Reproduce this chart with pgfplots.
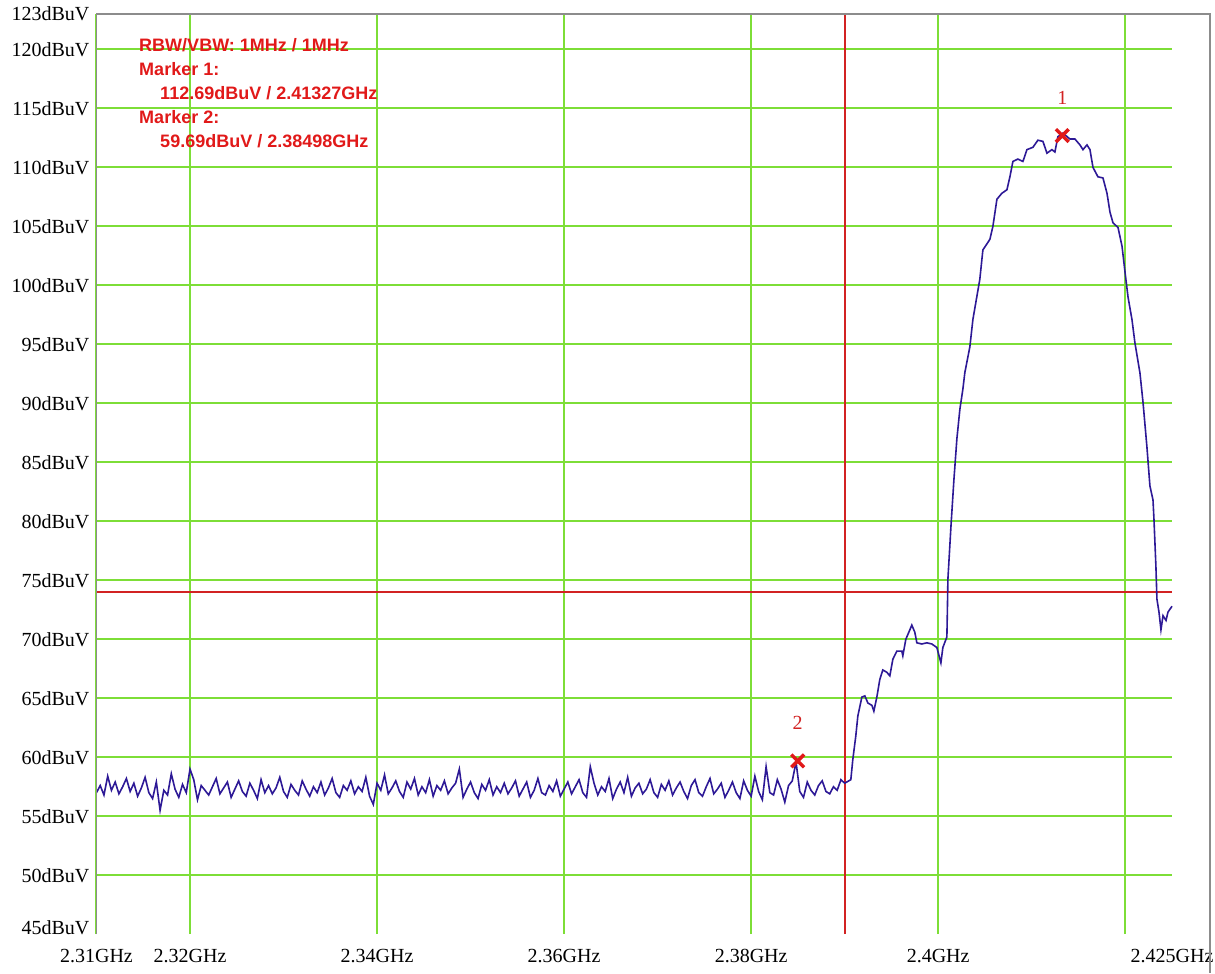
\documentclass[border=0pt]{standalone}
\usepackage{pgfplots}
\pgfplotsset{compat=1.18}
\usepackage{pgfplotstable}
\usepackage{fontspec}
\setmainfont{Liberation Serif}
\newfontfamily\annotfont{Liberation Sans}
\definecolor{gridgreen}{RGB}{125,222,55}
\definecolor{tracecol}{RGB}{45,25,150}
\definecolor{redline}{RGB}{210,35,35}
\definecolor{annotred}{RGB}{225,25,25}
\definecolor{axisgray}{RGB}{140,140,140}

\pgfplotstableread{
x y
2.3100 57.0
2.3104 57.6
2.3108 56.8
2.3112 58.4
2.3116 57.2
2.3120 57.9
2.3124 56.9
2.3128 57.5
2.3132 58.2
2.3136 57.1
2.3140 57.8
2.3144 56.7
2.3148 57.4
2.3152 58.3
2.3156 57.0
2.3160 56.5
2.3164 57.9
2.3168 55.5
2.3172 57.2
2.3176 56.8
2.3180 58.6
2.3184 57.3
2.3188 56.6
2.3192 57.7
2.3196 57.0
2.3200 59.0
2.3204 58.1
2.3208 56.4
2.3212 57.6
2.3216 57.2
2.3220 56.8
2.3224 57.5
2.3228 58.2
2.3232 56.9
2.3236 57.4
2.3240 57.9
2.3244 56.6
2.3248 57.3
2.3252 58.0
2.3256 57.1
2.3260 56.7
2.3264 57.8
2.3268 57.2
2.3272 56.5
2.3276 58.1
2.3280 57.0
2.3284 57.6
2.3288 56.9
2.3292 57.4
2.3296 58.3
2.3300 57.1
2.3304 56.6
2.3308 57.7
2.3312 57.2
2.3316 56.8
2.3320 58.0
2.3324 57.3
2.3328 56.7
2.3332 57.5
2.3336 57.0
2.3340 57.9
2.3344 56.8
2.3348 57.4
2.3352 58.2
2.3356 57.0
2.3360 56.6
2.3364 57.6
2.3368 57.2
2.3372 58.0
2.3376 56.9
2.3380 57.5
2.3384 57.1
2.3388 58.3
2.3392 56.7
2.3396 56.0
2.3400 57.8
2.3404 57.2
2.3408 58.5
2.3412 56.9
2.3416 57.4
2.3420 58.0
2.3424 57.1
2.3428 56.6
2.3432 57.9
2.3436 57.3
2.3440 58.2
2.3444 56.8
2.3448 57.5
2.3452 57.0
2.3456 58.1
2.3460 56.7
2.3464 57.6
2.3468 57.2
2.3472 58.0
2.3476 56.9
2.3480 57.4
2.3484 57.8
2.3488 59.0
2.3492 56.6
2.3496 57.3
2.3500 57.9
2.3504 57.0
2.3508 56.5
2.3512 57.7
2.3516 57.2
2.3520 58.1
2.3524 56.8
2.3528 57.5
2.3532 57.0
2.3536 57.8
2.3540 56.9
2.3544 57.4
2.3548 58.0
2.3552 56.7
2.3556 57.3
2.3560 57.9
2.3564 56.6
2.3568 57.2
2.3572 58.2
2.3576 57.0
2.3580 56.8
2.3584 57.6
2.3588 57.1
2.3592 58.0
2.3596 56.7
2.3600 57.3
2.3604 57.9
2.3608 56.9
2.3612 57.5
2.3616 58.1
2.3620 57.0
2.3624 56.6
2.3628 59.2
2.3632 57.8
2.3636 56.8
2.3640 57.5
2.3644 57.1
2.3648 58.2
2.3652 56.5
2.3656 57.3
2.3660 57.9
2.3664 57.0
2.3668 58.3
2.3672 56.7
2.3676 57.4
2.3680 57.8
2.3684 56.9
2.3688 57.3
2.3692 58.1
2.3696 57.0
2.3700 56.6
2.3704 57.7
2.3708 57.2
2.3712 58.0
2.3716 56.8
2.3720 57.4
2.3724 57.9
2.3728 57.1
2.3732 56.5
2.3736 57.6
2.3740 58.1
2.3744 57.0
2.3748 56.7
2.3752 57.5
2.3756 58.2
2.3760 56.9
2.3764 57.3
2.3768 57.8
2.3772 56.6
2.3776 57.2
2.3780 57.9
2.3784 57.0
2.3788 56.5
2.3792 58.0
2.3796 57.2
2.3800 56.7
2.3804 58.4
2.3808 57.1
2.3812 56.4
2.3816 59.2
2.3820 57.0
2.3824 56.8
2.3828 58.1
2.3832 57.3
2.3836 56.2
2.3840 57.6
2.3844 58.0
2.3848 59.6
2.3852 57.1
2.3856 56.6
2.3860 57.9
2.3864 57.2
2.3868 56.8
2.3872 57.6
2.3876 58.0
2.3880 57.1
2.3884 56.9
2.3888 57.5
2.3892 57.2
2.3896 58.1
2.3900 57.8
2.39066 58.1
2.39087 59.8
2.39119 61.8
2.39141 63.5
2.39184 65.1
2.39216 65.2
2.39248 64.6
2.39291 64.4
2.39312 63.9
2.39344 65.1
2.39376 66.6
2.39408 67.4
2.39451 67.2
2.39483 66.9
2.39515 68.3
2.39558 69.0
2.39611 69.0
2.39622 68.6
2.39654 70.0
2.39697 70.8
2.39718 71.2
2.39750 70.6
2.39772 69.7
2.39825 69.6
2.39879 69.7
2.39932 69.6
2.39986 69.3
2.40029 68.0
2.40050 69.3
2.40093 70.2
2.40098 72.3
2.40104 75.1
2.40136 79.5
2.40168 83.5
2.40200 87.0
2.40232 89.5
2.40264 91.2
2.40285 92.6
2.40339 94.8
2.40371 97.1
2.40445 100.5
2.40478 103.0
2.40553 103.9
2.40585 105.0
2.40628 107.3
2.40681 107.8
2.40735 108.1
2.40767 109.2
2.40799 110.5
2.40852 110.7
2.40906 110.5
2.40949 111.5
2.41013 111.7
2.41066 112.3
2.41120 112.2
2.41163 111.2
2.41216 111.5
2.41248 111.3
2.41280 112.6
2.41334 112.9
2.41409 112.4
2.41462 112.4
2.41516 111.9
2.41548 111.5
2.41591 111.9
2.41623 111.5
2.41655 110.0
2.41708 109.2
2.41762 109.1
2.41805 107.8
2.41837 106.2
2.41869 105.3
2.41923 104.9
2.41966 103.3
2.41998 101.1
2.42030 99.0
2.42072 97.1
2.42104 95.1
2.42157 92.6
2.42190 90.1
2.42232 86.3
2.42264 83.0
2.42297 81.8
2.42307 80.2
2.42328 76.2
2.42339 73.4
2.42361 72.3
2.42382 70.8
2.42404 72.0
2.42436 71.6
2.42457 72.3
2.42500 72.8
}\tracetable

\begin{document}
\begin{tikzpicture}
\begin{axis}[
  scale only axis,
  width=537.6pt, height=460pt,
  xmin=2.31, xmax=2.425, ymin=45, ymax=123,
  axis line style={draw=none},
  major tick length=0pt,
  clip=false,
  xtick={2.31,2.32,2.34,2.36,2.38,2.40,2.42},
  xticklabels={2.31GHz,2.32GHz,2.34GHz,2.36GHz,2.38GHz,2.4GHz,{}},
  extra x ticks={2.425},
  extra x tick labels={2.425GHz},
  extra x tick style={grid=none},
  ytick={50,55,60,65,70,75,80,85,90,95,100,105,110,115,120,123},
  yticklabels={50dBuV,55dBuV,60dBuV,65dBuV,70dBuV,75dBuV,80dBuV,85dBuV,90dBuV,95dBuV,100dBuV,105dBuV,110dBuV,115dBuV,120dBuV,123dBuV},
  extra y ticks={45},
  extra y tick labels={45dBuV},
  extra y tick style={grid=none, yticklabel style={yshift=3.5pt}},
  grid=major,
  major grid style={gridgreen, line width=1pt},
  tick label style={font=\fontsize{10}{12}\selectfont, text=black},
  xticklabel style={yshift=-4pt},
]
\addplot[redline, line width=0.9pt] coordinates {(2.39,45) (2.39,123)};
\addplot[redline, line width=1pt] coordinates {(2.31,74) (2.425,74)};
\addplot[tracecol, line width=0.8pt] table[x=x, y=y] {\tracetable};
\addplot[only marks, mark=x, mark size=4.5pt, mark options={line width=1.7pt, color=annotred}] coordinates {(2.41327,112.69) (2.38498,59.69)};
\node[text=redline, font=\fontsize{10}{12}\selectfont] at (axis cs:2.41327,112.69) [yshift=19pt] {1};
\node[text=redline, font=\fontsize{10}{12}\selectfont] at (axis cs:2.38498,59.69) [yshift=19pt] {2};
\node[anchor=north west, inner sep=0pt, align=left, text=annotred, font=\annotfont\bfseries\fontsize{9}{12}\selectfont] at (axis cs:2.31453,121.0)
  {RBW/VBW: 1MHz / 1MHz\\Marker 1:\\\hspace*{10.5pt}112.69dBuV / 2.41327GHz\\Marker 2:\\\hspace*{10.5pt}59.69dBuV / 2.38498GHz};
\draw[axisgray, line width=0.75pt] (rel axis cs:0,0) -- (rel axis cs:0,1) -- (rel axis cs:1.0353,1) -- (rel axis cs:1.0353,-0.0424);
\coordinate (bbsw) at (rel axis cs:-0.0897,-0.0424);
\coordinate (bbne) at (rel axis cs:1.04,1.0152);
\end{axis}
\pgfresetboundingbox
\path (bbsw) rectangle (bbne);
\end{tikzpicture}
\end{document}
